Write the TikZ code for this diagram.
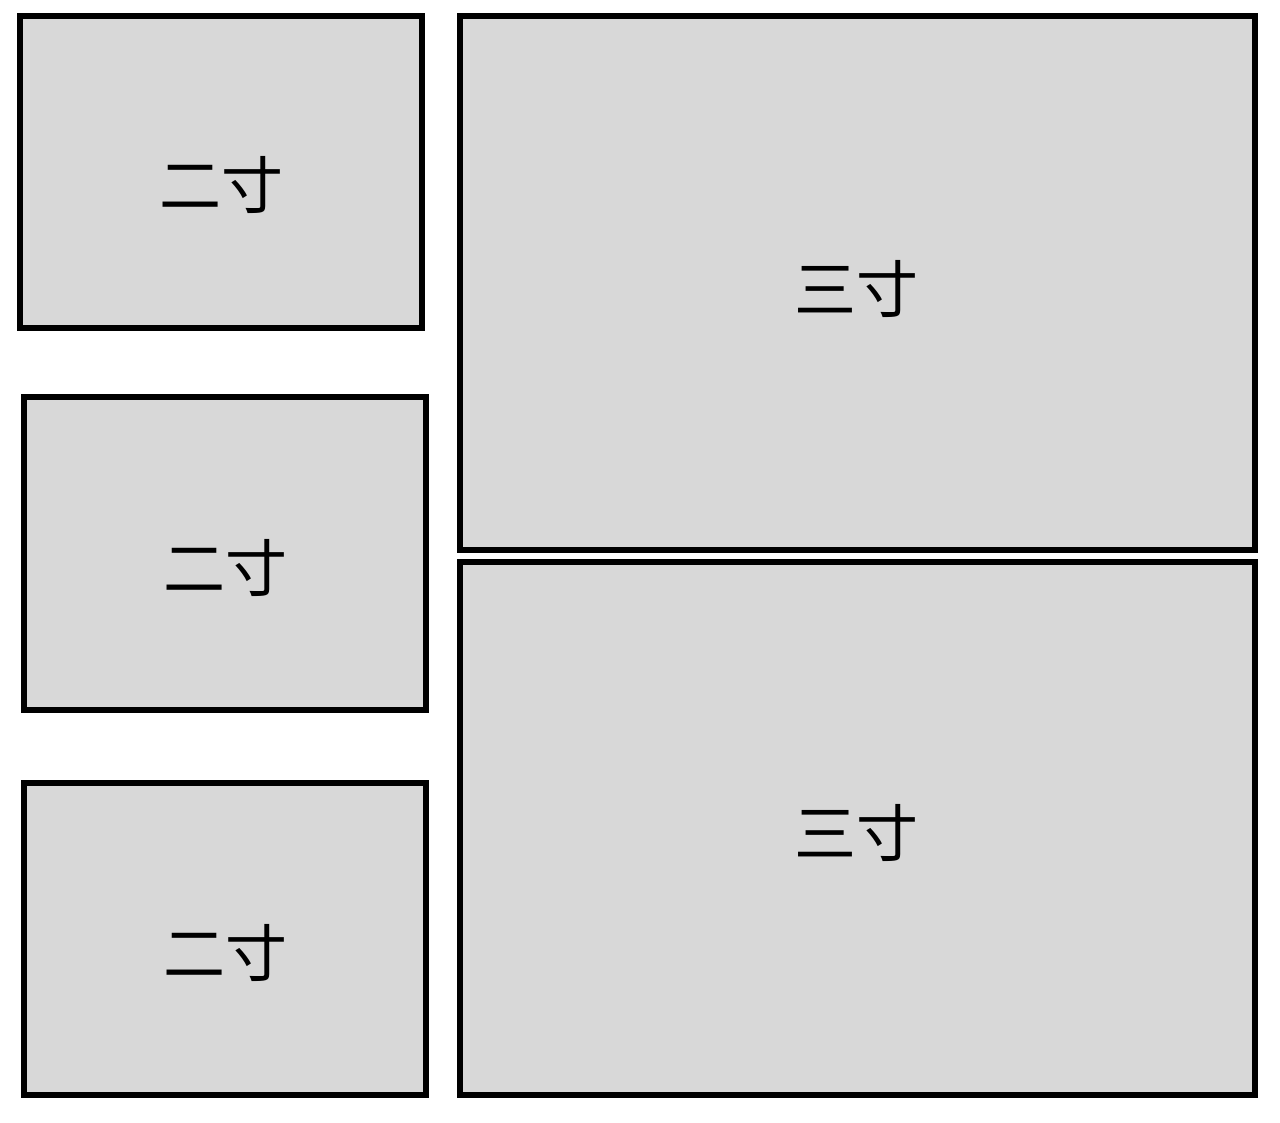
\documentclass[tikz,border=0pt]{standalone}
\usepackage{fontspec}
\newfontfamily\cjk{Noto Sans CJK SC}
\definecolor{boxgray}{RGB}{216,216,216}
\begin{document}
\begin{tikzpicture}[x=0.75pt,y=-0.75pt,
  photo/.style={draw=black,fill=boxgray,line width=4.5pt},
  lbl/.style={font=\cjk\fontsize{46.5}{52}\selectfont,inner sep=0pt}]
\useasboundingbox (0,0) rectangle (1280,1122);
\draw[photo] (20,16) rectangle (422,328);
\draw[photo] (24,397) rectangle (426,710);
\draw[photo] (24,783) rectangle (426,1095);
\draw[photo] (460,16) rectangle (1255,550);
\draw[photo] (460,562) rectangle (1255,1095);
\node[lbl] (t1) at (221,185) {二寸};
\node[lbl] (t2) at (225,568) {二寸};
\node[lbl] (t3) at (225,953) {二寸};
\node[lbl] (t4) at (856,289) {三寸};
\node[lbl] (t5) at (856,833) {三寸};
\end{tikzpicture}
\end{document}
